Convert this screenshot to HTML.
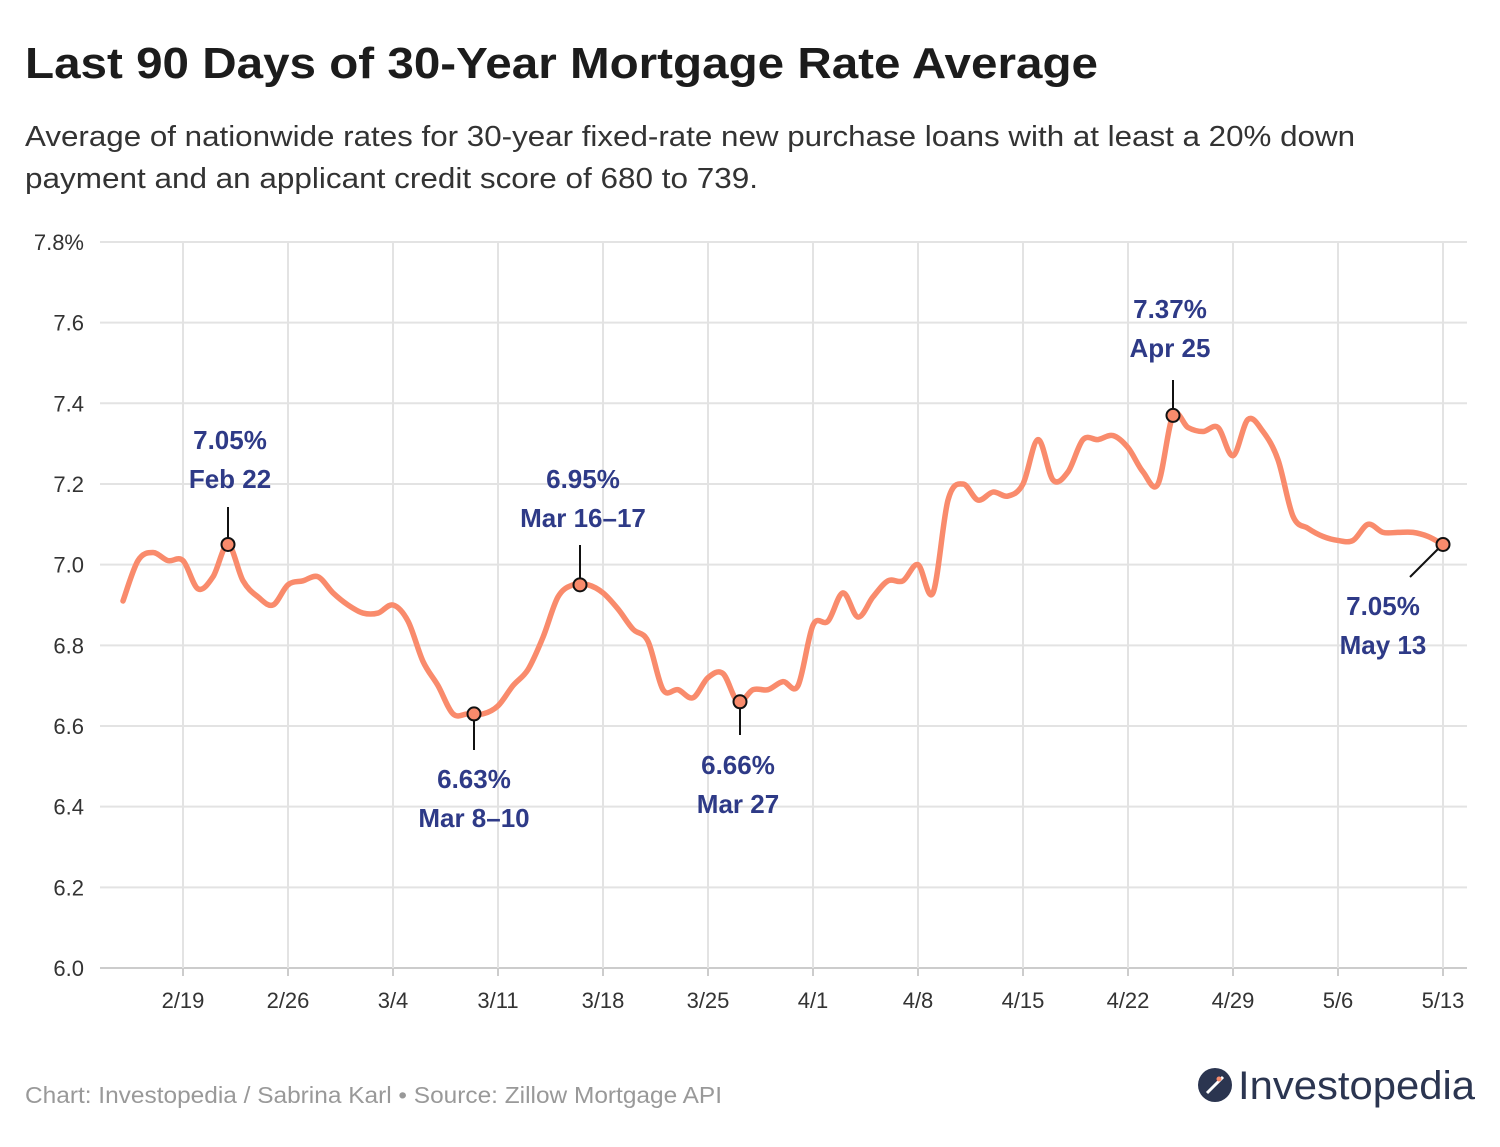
<!DOCTYPE html>
<html><head><meta charset="utf-8">
<style>
body{margin:0;background:#fff;width:1500px;height:1142px;overflow:hidden;font-family:"Liberation Sans",sans-serif;}
</style></head><body>
<svg id="s" width="1500" height="1142" xmlns="http://www.w3.org/2000/svg" font-family="Liberation Sans, sans-serif">
<text x="25" y="78" font-size="44" font-weight="bold" fill="#1c1c1c" textLength="1073" lengthAdjust="spacingAndGlyphs">Last 90 Days of 30-Year Mortgage Rate Average</text>
<text x="25" y="146" font-size="29" fill="#333" textLength="1330" lengthAdjust="spacingAndGlyphs">Average of nationwide rates for 30-year fixed-rate new purchase loans with at least a 20% down</text>
<text x="25" y="188" font-size="29" fill="#333" textLength="733" lengthAdjust="spacingAndGlyphs">payment and an applicant credit score of 680 to 739.</text>
<g id="grid"></g>
<path id="line" fill="none" stroke="#f98b6c" stroke-width="5.5" stroke-linejoin="round" stroke-linecap="round"/>
<g id="ann" font-size="26" font-weight="bold" fill="#2e3a87" text-anchor="middle"></g>
<text x="25" y="1103" font-size="23" fill="#999" textLength="697" lengthAdjust="spacingAndGlyphs">Chart: Investopedia / Sabrina Karl • Source: Zillow Mortgage API</text>
<circle cx="1215" cy="1085" r="17" fill="#2b3550"/>
<path d="M1207 1093 L1223 1077" stroke="#fff" stroke-width="3"/>
<circle cx="1219" cy="1079" r="2.5" fill="#f98b6c"/>
<text x="1238" y="1099" font-size="40" fill="#2b3550" textLength="237" lengthAdjust="spacingAndGlyphs">Investopedia</text>
</svg>
<script>
var ns="http://www.w3.org/2000/svg";
function y(v){return 968-(v-6)/0.2*80.67;}
function x(d){return 123+d*15;}
var g=document.getElementById('grid');
function el(t,a,p,txt){var e=document.createElementNS(ns,t);for(var k in a)e.setAttribute(k,a[k]);if(txt)e.textContent=txt;p.appendChild(e);return e;}
for(var i=0;i<=9;i++){var v=6+i*0.2;var yy=y(v);
 el('line',{x1:100,x2:1467,y1:yy,y2:yy,stroke:i==0?'#ccc':'#e3e3e3','stroke-width':2},g);
 el('text',{x:84,y:yy+8,'font-size':22,fill:'#333','text-anchor':'end'},g,v.toFixed(1)+(i==9?'%':''));}
var labs=['2/19','2/26','3/4','3/11','3/18','3/25','4/1','4/8','4/15','4/22','4/29','5/6','5/13'];
for(var i=0;i<labs.length;i++){var xx=183+i*105;
 el('line',{x1:xx,x2:xx,y1:242,y2:968,stroke:'#e3e3e3','stroke-width':2},g);
 el('line',{x1:xx,x2:xx,y1:968,y2:976,stroke:'#ccc','stroke-width':2},g);
 el('text',{x:xx,y:1008,'font-size':22,fill:'#333','text-anchor':'middle'},g,labs[i]);}
var d=[6.91,7.01,7.03,7.01,7.01,6.94,6.97,7.05,6.96,6.92,6.90,6.95,6.96,6.97,6.93,6.90,6.88,6.88,6.90,6.86,6.76,6.70,6.63,6.63,6.63,6.65,6.70,6.74,6.82,6.92,6.95,6.95,6.93,6.89,6.84,6.81,6.69,6.69,6.67,6.72,6.73,6.66,6.69,6.69,6.71,6.70,6.85,6.86,6.93,6.87,6.92,6.96,6.96,7.00,6.93,7.16,7.20,7.16,7.18,7.17,7.20,7.31,7.21,7.23,7.31,7.31,7.32,7.29,7.23,7.20,7.37,7.34,7.33,7.34,7.27,7.36,7.33,7.26,7.12,7.09,7.07,7.06,7.06,7.10,7.08,7.08,7.08,7.07,7.05];
var P=d.map(function(v,i){return [x(i),y(v)];});
var s='M'+P[0][0]+' '+P[0][1];
for(var i=0;i<P.length-1;i++){var p0=P[Math.max(i-1,0)],p1=P[i],p2=P[i+1],p3=P[Math.min(i+2,P.length-1)];
 s+=' C'+(p1[0]+(p2[0]-p0[0])/6)+' '+(p1[1]+(p2[1]-p0[1])/6)+' '+(p2[0]-(p3[0]-p1[0])/6)+' '+(p2[1]-(p3[1]-p1[1])/6)+' '+p2[0]+' '+p2[1];}
document.getElementById('line').setAttribute('d',s);
var a=document.getElementById('ann');
function ann(cx,v,lx1,ly1,lx2,ly2,tx,t1y,l1,l2){
 el('line',{x1:lx1,y1:ly1,x2:lx2,y2:ly2,stroke:'#111','stroke-width':2},a);
 el('circle',{cx:cx,cy:y(v),r:6.5,fill:'#f98b6c',stroke:'#111','stroke-width':2},a);
 el('text',{x:tx,y:t1y},a,l1);el('text',{x:tx,y:t1y+39},a,l2);}
ann(228,7.05,228,507,228,538,230,449,'7.05%','Feb 22');
ann(474,6.63,474,719,474,750,474,788,'6.63%','Mar 8–10');
ann(580,6.95,580,545,580,578,583,488,'6.95%','Mar 16–17');
ann(740,6.66,740,705,740,735,738,774,'6.66%','Mar 27');
ann(1173,7.37,1173,380,1173,410,1170,318,'7.37%','Apr 25');
ann(1443,7.05,1438,549,1410,577,1383,615,'7.05%','May 13');
</script>
</body></html>
